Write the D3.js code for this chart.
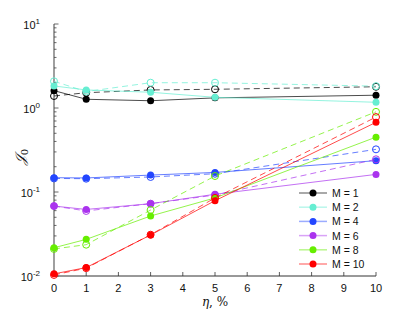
<!DOCTYPE html>
<html>
<head>
<meta charset="utf-8">
<script src="https://cdn.jsdelivr.net/npm/d3@7"></script>
<style>
  body { margin: 0; background: #fff; }
  text { font-family: "Liberation Sans", Arial, sans-serif; fill: #111; }
</style>
</head>
<body>
<svg id="chart"></svg>
<script>
// eta values (x), in percent
const etaValues = [0, 1, 3, 5, 10];
const seriesLabels = ["M = 1", "M = 2", "M = 4", "M = 6", "M = 8", "M = 10"];
const seriesColors = ["#000000", "#66eed2", "#2346ff", "#aa33ee", "#66ee00", "#ff0000"];
// solid lines, filled markers
const solidM1 = [1.61, 1.27, 1.22, 1.32, 1.42];
const solidM2 = [1.83, 1.64, 1.54, 1.34, 1.17];
const solidM4 = [0.148, 0.147, 0.159, 0.171, 0.236];
const solidM6 = [0.068, 0.062, 0.0726, 0.094, 0.162];
const solidM8 = [0.0217, 0.0273, 0.0518, 0.085, 0.45];
const solidM10 = [0.0106, 0.0126, 0.0308, 0.0788, 0.675];
// dashed lines, open markers
const dashM1 = [1.39, 1.52, 1.64, 1.67, 1.79];
const dashM2 = [2.08, 1.57, 2.0, 2.0, 1.82];
const dashM4 = [0.145, 0.144, 0.151, 0.165, 0.322];
const dashM6 = [0.068, 0.0595, 0.0726, 0.092, 0.245];
const dashM8 = [0.021, 0.0236, 0.061, 0.155, 0.90];
const dashM10 = [0.0103, 0.0124, 0.031, 0.085, 0.78];
const xTicks = [0, 1, 2, 3, 4, 5, 6, 7, 8, 9, 10];
const yDecades = [-2, -1, 0, 1];

const solidSeries = [solidM1, solidM2, solidM4, solidM6, solidM8, solidM10];
const dashSeries = [dashM1, dashM2, dashM4, dashM6, dashM8, dashM10];

const width = 415, height = 312;
const margin = { left: 54, right: 39, top: 24, bottom: 36 };

const svg = d3.select('#chart').attr('width', width).attr('height', height);

const x = d3.scaleLinear().domain([0, 10]).range([margin.left, width - margin.right]);
const y = d3.scaleLog().domain([0.01, 10]).range([height - margin.bottom, margin.top]);

const axisColor = '#777';

// y axis
let yAxis = svg.append('g');
yAxis.append('line')
    .attr('x1', x(0)).attr('x2', x(0))
    .attr('y1', y(0.01)).attr('y2', y(10))
    .attr('stroke', axisColor).attr('stroke-width', 1.4);
let minorVals = [];
yDecades.slice(0, -1).forEach(d => {
    for (let k = 2; k <= 9; k++) minorVals.push(k * Math.pow(10, d));
});
yAxis.selectAll('.minor').data(minorVals).enter().append('line')
    .attr('x1', x(0)).attr('x2', x(0) + 2.5)
    .attr('y1', d => y(d)).attr('y2', d => y(d))
    .attr('stroke', '#444').attr('stroke-width', 0.8);
yAxis.selectAll('.major').data(yDecades).enter().append('line')
    .attr('x1', x(0)).attr('x2', x(0) + 4.5)
    .attr('y1', d => y(Math.pow(10, d))).attr('y2', d => y(Math.pow(10, d)))
    .attr('stroke', '#444').attr('stroke-width', 0.8);
let yLab = yAxis.selectAll('.ylab').data(yDecades).enter().append('text')
    .attr('x', 40)
    .attr('y', d => y(Math.pow(10, d)) + 5)
    .attr('text-anchor', 'end')
    .style('font-size', '11px');
yLab.append('tspan').text('10');
yLab.append('tspan').attr('dy', -5).style('font-size', '8px').text(d => d);

// x axis
let xAxis = svg.append('g');
xAxis.append('line')
    .attr('x1', x(0)).attr('x2', x(10))
    .attr('y1', y(0.01)).attr('y2', y(0.01))
    .attr('stroke', '#333').attr('stroke-width', 1);
xAxis.selectAll('.xt').data(xTicks).enter().append('line')
    .attr('x1', d => x(d)).attr('x2', d => x(d))
    .attr('y1', y(0.01)).attr('y2', y(0.01) - 4)
    .attr('stroke', '#333').attr('stroke-width', 0.8);
xAxis.selectAll('.xl').data(xTicks).enter().append('text')
    .attr('x', d => x(d))
    .attr('y', y(0.01) + 16)
    .attr('text-anchor', 'middle')
    .style('font-size', '11px')
    .text(d => d);

// axis titles
svg.append('text')
    .attr('x', x(5))
    .attr('y', 306)
    .attr('text-anchor', 'middle')
    .style('font-size', '12px')
    .style('font-family', '"DejaVu Serif", serif')
    .html('<tspan font-style="italic">η</tspan>, %');
svg.append('text')
    .attr('transform', 'translate(25,' + 157 + ') rotate(-90)')
    .attr('text-anchor', 'middle')
    .style('font-size', '14px')
    .style('font-family', '"DejaVu Serif", serif')
    .html('<tspan font-style="italic">𝒥</tspan><tspan dy="3" font-size="10px">0</tspan>');

// series
let line = d3.line()
    .x((d, i) => x(etaValues[i]))
    .y(d => y(d));

let plot = svg.append('g');
seriesLabels.forEach((label, s) => {
    let color = seriesColors[s];
    let g = plot.append('g');
    g.append('path')
        .attr('d', line(dashSeries[s]))
        .attr('fill', 'none')
        .attr('stroke', color)
        .attr('stroke-opacity', 0.7)
        .attr('stroke-dasharray', '6,4')
        .attr('stroke-width', 1);
    g.selectAll('.open').data(dashSeries[s]).enter().append('circle')
        .attr('cx', (d, i) => x(etaValues[i]))
        .attr('cy', d => y(d))
        .attr('r', 3.5)
        .attr('fill', 'none')
        .attr('stroke', color)
        .attr('stroke-width', 1);
    g.append('path')
        .attr('d', line(solidSeries[s]))
        .attr('fill', 'none')
        .attr('stroke', color)
        .attr('stroke-opacity', 0.7)
        .attr('stroke-width', 1);
    g.selectAll('.filled').data(solidSeries[s]).enter().append('circle')
        .attr('cx', (d, i) => x(etaValues[i]))
        .attr('cy', d => y(d))
        .attr('r', 3.5)
        .attr('fill', color);
});

// legend
let legend = svg.selectAll('.legend')
    .data(seriesLabels)
    .enter()
    .append('g')
    .attr('transform', (d, i) => 'translate(299,' + (193 + i * 14.2) + ')');
legend.append('line')
    .attr('x1', 0).attr('x2', 28)
    .attr('stroke', (d, i) => seriesColors[i])
    .attr('stroke-opacity', 0.45)
    .attr('stroke-width', 1.5);
legend.append('circle')
    .attr('cx', 14).attr('r', 3.5)
    .attr('fill', (d, i) => seriesColors[i]);
legend.append('text')
    .attr('x', 33).attr('y', 4)
    .style('font-size', '10.5px')
    .text(d => d);
</script>
</body>
</html>
